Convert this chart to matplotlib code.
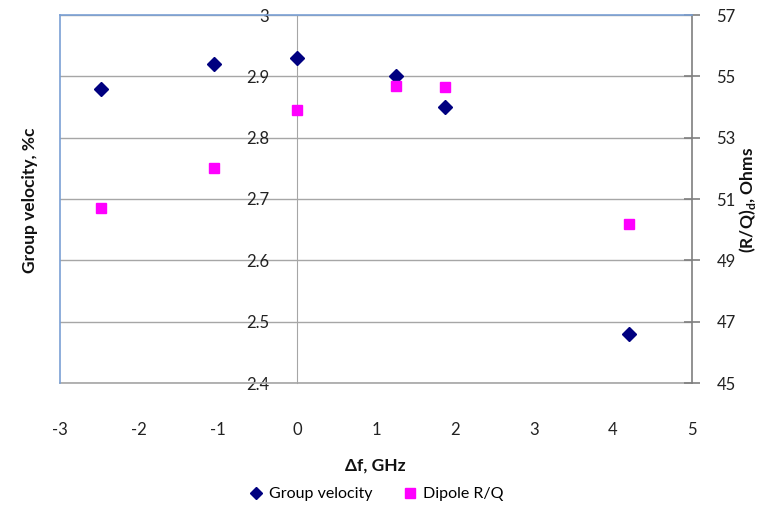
import matplotlib
matplotlib.use("Agg")
import matplotlib.pyplot as plt
from matplotlib.lines import Line2D

plt.rcParams['font.family'] = ['Lato', 'DejaVu Sans']

df_ghz = [-2.48, -1.05, 0.0, 1.25, 1.87, 4.20]
group_velocity = [2.88, 2.92, 2.93, 2.90, 2.85, 2.48]
dipole_rq = [50.7, 52.0, 53.9, 54.7, 54.65, 50.2]

x_ticks = [-3, -2, -1, 0, 1, 2, 3, 4, 5]
left_ticks = [2.4, 2.5, 2.6, 2.7, 2.8, 2.9, 3.0]
left_labels = ['2.4', '2.5', '2.6', '2.7', '2.8', '2.9', '3']
right_ticks = [45, 47, 49, 51, 53, 55, 57]

GRID = '#a6a6a6'
BORDER = '#7aa0d4'

fig = plt.figure(figsize=(7.66, 5.05), dpi=100)
ax = fig.add_axes([60/766, 1-383/505, 632/766, 368/505])
ax2 = ax.twinx()

ax.set_xlim(-3, 5)
ax.set_ylim(2.4, 3.0)
ax2.set_ylim(45, 57)

ax.set_xticks(x_ticks)
ax.set_xticklabels([str(t) for t in x_ticks])
ax.set_yticks(left_ticks)
ax.set_yticklabels(left_labels)
ax2.set_yticks(right_ticks)
ax2.set_yticklabels([str(t) for t in right_ticks])

ax.grid(axis='y', color=GRID, lw=1)
ax.set_axisbelow(True)

for s in ['top', 'right']:
    ax.spines[s].set_visible(False)
ax.spines['left'].set_position(('data', 0))
ax.spines['left'].set_color(GRID)
ax.spines['bottom'].set_color(GRID)
ax.spines['bottom'].set_linewidth(1.2)

# plot-area border (left/top) in blue via twin spines
ax2.spines['bottom'].set_visible(False)
for s in ['top', 'left']:
    ax2.spines[s].set_color(BORDER)
    ax2.spines[s].set_linewidth(1.2)
ax2.spines['right'].set_color('#7f7f7f')
ax2.spines['right'].set_linewidth(1.2)

ax.tick_params(axis='y', length=0, pad=20, labelsize=12, colors='#222222')
ax.tick_params(axis='x', length=0, pad=28, labelsize=12, colors='#222222')
ax2.tick_params(axis='y', direction='inout', length=11, width=1.2, color='#7f7f7f',
                pad=12, labelsize=12, labelcolor='#222222')

ax.plot(df_ghz, group_velocity, linestyle='none', marker='D', markersize=7.5,
        color='#000080', zorder=5, clip_on=False)
ax2.plot(df_ghz, dipole_rq, linestyle='none', marker='s', markersize=7,
         color='#ff00ff', zorder=5, clip_on=False)

fig.text(30/766, 1-200/505, 'Group velocity, %c', rotation=90, ha='center', va='center',
         fontsize=12.5, fontweight='bold', color='#111111')
fig.text(748/766, 1-200/505, '(R/Q)$_\\mathregular{d}$, Ohms', rotation=90, ha='center', va='center',
         fontsize=12.5, fontweight='bold', color='#111111')
fig.text(375/766, 1-466/505, 'Δf, GHz', ha='center', va='center',
         fontsize=12.5, fontweight='bold', color='#111111')

handles = [Line2D([], [], linestyle='none', marker='D', markersize=6, color='#000080'),
           Line2D([], [], linestyle='none', marker='s', markersize=6.5, color='#ff00ff')]
fig.legend(handles, ['Group velocity', 'Dipole R/Q'], loc='center',
           bbox_to_anchor=(375/766, 1-494/505), ncol=2, frameon=False,
           fontsize=11.5, handletextpad=0.2, columnspacing=1.8, handlelength=1.2)

fig.savefig('out.png', dpi=100)
